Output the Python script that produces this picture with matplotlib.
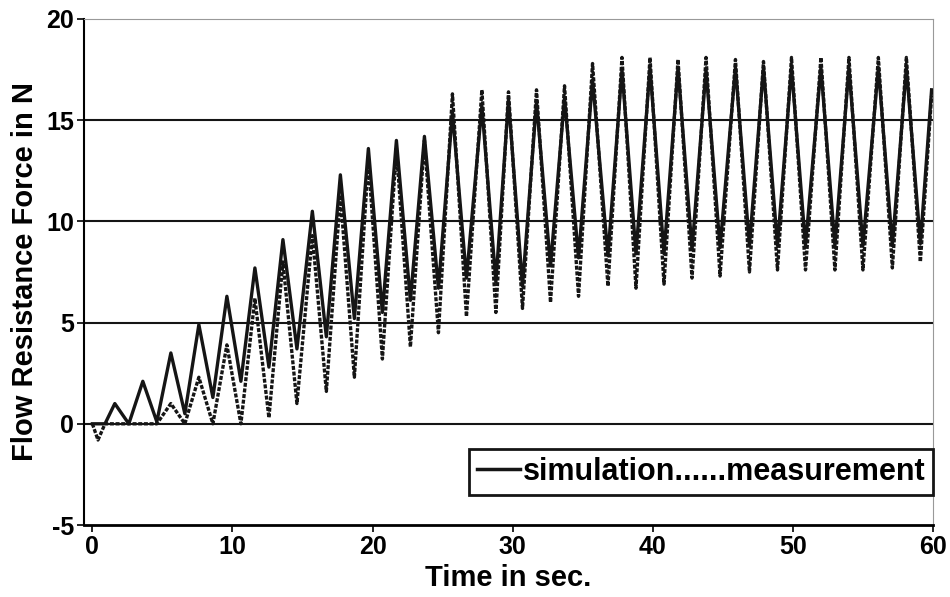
import matplotlib.pyplot as plt
from matplotlib.lines import Line2D

plt.rcParams['font.family'] = ['Liberation Sans', 'DejaVu Sans']
plt.rcParams['font.weight'] = 'bold'
plt.rcParams['axes.unicode_minus'] = False

# values (time in s, force in N)
start_t = [0.0, 0.4, 0.9]
sim_start = [0.0, 0.0, 0.0]
meas_start = [0.0, -0.8, 0.0]

peak_t = [1.6, 3.6, 5.6, 7.6, 9.6, 11.6, 13.6, 15.7, 17.7, 19.7, 21.7, 23.7, 25.7, 27.8, 29.7,
          31.7, 33.7, 35.7, 37.8, 39.8, 41.8, 43.8, 45.9, 47.9, 49.9, 52.0, 54.0, 56.1, 58.1]
sim_peak = [1.0, 2.1, 3.5, 4.9, 6.3, 7.7, 9.1, 10.5, 12.3, 13.6, 14.0, 14.2, 15.4, 15.7, 16.0,
            15.9, 16.1, 17.0, 17.5, 17.6, 17.6, 17.5, 17.6, 17.6, 17.6, 17.6, 17.6, 17.6, 17.6]
meas_peak = [0.0, 0.0, 1.0, 2.3, 3.9, 6.2, 8.0, 9.3, 11.3, 13.0, 13.6, 14.0, 16.3, 16.5, 16.4,
             16.5, 16.7, 17.8, 18.1, 18.1, 18.0, 18.1, 18.0, 17.9, 18.1, 18.1, 18.1, 18.1, 18.1]

trough_t = [2.6, 4.6, 6.6, 8.6, 10.6, 12.6, 14.6, 16.7, 18.7, 20.7, 22.7, 24.7, 26.7, 28.8, 30.7,
            32.7, 34.7, 36.8, 38.8, 40.8, 42.8, 44.8, 46.9, 48.9, 50.9, 53.0, 55.0, 57.1, 59.1]
sim_trough = [0.0, 0.1, 0.5, 1.3, 2.1, 2.8, 3.7, 4.3, 5.2, 5.5, 6.1, 6.7, 7.2, 7.0, 6.8,
              7.8, 8.2, 8.3, 8.4, 8.4, 8.6, 8.7, 8.8, 8.8, 8.8, 8.8, 8.8, 8.8, 8.9]
meas_trough = [0.0, 0.0, 0.0, 0.0, 0.0, 0.3, 1.0, 1.6, 2.3, 3.2, 3.8, 4.5, 5.3, 5.5, 5.7,
               6.0, 6.3, 6.8, 6.7, 6.9, 7.2, 7.3, 7.5, 7.6, 7.6, 7.6, 7.6, 7.7, 8.0]

end_t = [59.9]
sim_end = [16.5]
meas_end = [16.2]

# stitch peaks and troughs together in time order
def build(t0, v0, pv, tv, t1, v1):
    t, v = list(t0), list(v0)
    for tp, p, tt, q in zip(peak_t, pv, trough_t, tv):
        t += [tp, tt]
        v += [p, q]
    return t + t1, v + v1

sim_t, sim_v = build(start_t, sim_start, sim_peak, sim_trough, end_t, sim_end)
meas_t, meas_v = build(start_t, meas_start, meas_peak, meas_trough, end_t, meas_end)

fig = plt.figure(figsize=(9.5, 5.97), dpi=100)
ax = fig.add_axes([0.0884, 0.1206, 0.8937, 0.8476])

for y in [0, 5, 10, 15]:
    ax.axhline(y, color='#151515', lw=1.5, zorder=1)

ax.plot(sim_t, sim_v, color='#151515', lw=2.4, zorder=3)
ax.plot(meas_t, meas_v, color='#151515', lw=2.4, ls=(0, (1.2, 0.5)), zorder=2)

ax.set_xlim(-0.6, 60)
ax.set_ylim(-5, 20)
ax.set_xticks(range(0, 61, 10))
ax.set_yticks(range(-5, 21, 5))
ax.tick_params(axis='both', labelsize=18, direction='out', length=5, width=1.2, pad=2)
for lab in ax.get_xticklabels() + ax.get_yticklabels():
    lab.set_fontweight('bold')

ax.spines['left'].set_linewidth(1.5)
ax.spines['bottom'].set_linewidth(2.0)
ax.spines['top'].set_color('#999999')
ax.spines['right'].set_color('#999999')
ax.spines['top'].set_linewidth(0.8)
ax.spines['right'].set_linewidth(0.8)

ax.set_xlabel('Time in sec.', fontsize=21, fontweight='bold', labelpad=4)
ax.set_ylabel('Flow Resistance Force in N', fontsize=21, fontweight='bold', labelpad=5)

handle = Line2D([], [], color='#151515', lw=2.5)
leg = ax.legend([handle], ['simulation......measurement'], loc='lower right',
                bbox_to_anchor=(1.0, 0.06), borderaxespad=0, fancybox=False,
                framealpha=1, edgecolor='#151515', handlelength=1.4, handletextpad=0.1,
                borderpad=0.25, prop={'size': 22, 'weight': 'bold'})
leg.get_frame().set_linewidth(2.0)

fig.savefig('out.png', dpi=100)
